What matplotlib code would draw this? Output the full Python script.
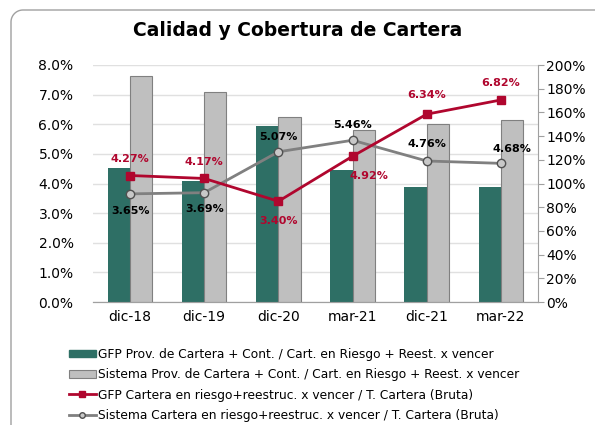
import numpy as np
import matplotlib.pyplot as plt
from matplotlib.patches import Rectangle
from matplotlib.ticker import FuncFormatter

categories = ["dic-18", "dic-19", "dic-20", "mar-21", "dic-21", "mar-22"]
# coverage bars (right axis, %)
gfp_cobertura = [113, 102.5, 148.5, 111.5, 97, 97]
sis_cobertura = [190.5, 177, 156.5, 145, 150.5, 153.5]
# portfolio at risk lines (left axis, %)
gfp_riesgo = [4.27, 4.17, 3.40, 4.92, 6.34, 6.82]
sis_riesgo = [3.65, 3.69, 5.07, 5.46, 4.76, 4.68]

green = "#2E6F65"
red = "#B0062E"
grey_bar = "#BFBFBF"
grey_line = "#808080"

plt.rcParams['font.family'] = 'DejaVu Sans'

fig = plt.figure(figsize=(5.95, 4.25), dpi=100)
W, H = 595, 425

# outer frame (left + top edge with rounded corner), in pixel coordinates
bg = fig.add_axes([0, 0, 1, 1])
bg.set_xlim(0, W)
bg.set_ylim(H, 0)
bg.axis("off")
r = 12
t = np.linspace(np.pi, 1.5 * np.pi, 20)
fx = np.concatenate([[11, 11], 11 + r + r * np.cos(t), [W + 5]])
fy = np.concatenate([[H + 5, 10 + r], 10 + r + r * np.sin(t), [10]])
bg.plot(fx, fy, color="#A0A0A0", lw=1)

ax = fig.add_axes([93 / W, 1 - 302 / H, 445 / W, 237 / H])
ax2 = ax.twinx()

x = np.arange(len(categories))
w = 0.3
ax2.bar(x - w / 2, gfp_cobertura, w, color=green, zorder=2)
ax2.bar(x + w / 2, sis_cobertura, w, color=grey_bar, edgecolor=grey_line, linewidth=0.8, zorder=2)
ax2.set_ylim(0, 200)
ax2.set_yticks(np.arange(0, 201, 20))
ax2.yaxis.set_major_formatter(FuncFormatter(lambda v, p: f"{v:.0f}%"))

# lines go on an overlay axis with the left scale so they sit above the bars
ax3 = fig.add_axes(ax.get_position(), sharex=ax)
ax3.patch.set_visible(False)
ax3.set_ylim(0, 8)
ax3.axis("off")
ax3.plot(x, sis_riesgo, color=grey_line, lw=2, marker="o", ms=6,
         mfc="#C8C8C8", mec="#505050", mew=1, zorder=3)
ax3.plot(x, gfp_riesgo, color=red, lw=2, marker="s", ms=6,
         mfc=red, mec=red, zorder=4)

ax.set_ylim(0, 8)
ax.set_yticks(np.arange(0, 8.01, 1))
ax.yaxis.set_major_formatter(FuncFormatter(lambda v, p: f"{v:.1f}%"))
ax.set_xlim(-0.5, len(categories) - 0.5)
ax.set_xticks(x)
ax.set_xticklabels(categories)
ax.grid(axis="y", color="#E0E0E0", lw=1)
ax.set_axisbelow(True)
ax.set_zorder(1)
ax2.set_zorder(2)
ax3.set_zorder(3)

for a in (ax, ax2):
    for s in ("top", "left", "right"):
        a.spines[s].set_visible(False)
    a.spines["bottom"].set_color("#A0A0A0")
ax2.spines["right"].set_visible(True)
ax2.spines["right"].set_color("#A0A0A0")
ax.tick_params(axis="y", length=0, labelsize=10, pad=14)
ax.tick_params(axis="x", length=0, labelsize=10, pad=6)
ax2.tick_params(axis="y", length=4, color="#A0A0A0", labelsize=10, pad=2)

# data labels
red_off = [(0, 12), (0, 12), (0, -14), (12, -14), (0, 14), (0, 12)]
grey_off = [(0, -12), (0, -12), (0, 11), (0, 11), (0, 12), (8, 10)]
for i in range(len(categories)):
    ax3.annotate(f"{gfp_riesgo[i]:.2f}%", (x[i], gfp_riesgo[i]), xytext=red_off[i],
                 textcoords="offset points", ha="center", va="center",
                 color=red, fontsize=8, fontweight="bold", zorder=5)
    ax3.annotate(f"{sis_riesgo[i]:.2f}%", (x[i], sis_riesgo[i]), xytext=grey_off[i],
                 textcoords="offset points", ha="center", va="center",
                 color="black", fontsize=8, fontweight="bold", zorder=5)

fig.text(0.5, 1 - 30 / H, "Calidad y Cobertura de Cartera", ha="center", va="center",
         fontsize=13.5, fontweight="bold")

handles = [
    Rectangle((0, 0), 1, 1, color=green),
    Rectangle((0, 0), 1, 1, facecolor=grey_bar, edgecolor=grey_line, lw=0.8),
    plt.Line2D([], [], color=red, lw=2, marker="s", ms=4),
    plt.Line2D([], [], color=grey_line, lw=2, marker="o", ms=4, mfc="#C8C8C8", mec="#505050"),
]
labels = [
    "GFP Prov. de Cartera + Cont. / Cart. en Riesgo + Reest. x vencer",
    "Sistema Prov. de Cartera + Cont. / Cart. en Riesgo + Reest. x vencer",
    "GFP Cartera en riesgo+reestruc. x vencer / T. Cartera (Bruta)",
    "Sistema Cartera en riesgo+reestruc. x vencer / T. Cartera (Bruta)",
]
fig.legend(handles, labels, loc="upper left", bbox_to_anchor=(64 / W, 1 - 343 / H),
           frameon=False, fontsize=8.8, handlelength=2.2, handletextpad=0.2,
           labelspacing=0.6, borderaxespad=0, handleheight=0.6)

fig.savefig("out.png", dpi=100)
